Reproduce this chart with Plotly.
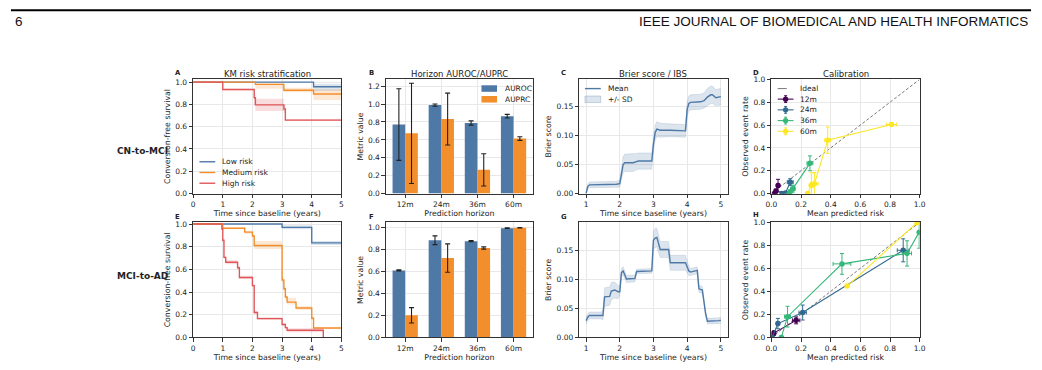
import numpy as np
import plotly.graph_objects as go

W, H = 1042, 370

# ---------------- data ----------------
# Panel A: KM, CN-to-MCI
a_low_t = [0, 4.06, 5]
a_low_s = [1.0, 0.958, 0.958]
a_low_lo = [1.0, 0.92, 0.92]
a_low_hi = [1.0, 0.985, 0.985]
a_med_t = [0, 2.1, 3.06, 4.06, 5]
a_med_s = [1.0, 0.98, 0.927, 0.893, 0.893]
a_med_lo = [1.0, 0.94, 0.91, 0.84, 0.84]
a_med_hi = [1.0, 0.99, 0.95, 0.935, 0.935]
a_high_t = [0, 1.0, 2.06, 2.1, 3.06, 3.11, 5]
a_high_s = [1.0, 0.933, 0.86, 0.796, 0.758, 0.659, 0.659]
a_high_lo = [1.0, 0.925, 0.80, 0.74, 0.72, 0.65, 0.65]
a_high_hi = [1.0, 0.94, 0.90, 0.85, 0.80, 0.668, 0.668]

# Panel E: KM, MCI-to-AD
e_low_t = [0, 3.0, 4.0, 5]
e_low_s = [1.0, 0.971, 0.834, 0.834]
e_low_lo = [1.0, 0.955, 0.815, 0.815]
e_low_hi = [1.0, 0.99, 0.85, 0.85]
e_med_t = [0, 1.0, 1.74, 2.0, 2.06, 3.0, 3.06, 3.11, 3.17, 3.47, 4.0, 4.06, 5]
e_med_s = [1.0, 0.963, 0.929, 0.894, 0.811, 0.506, 0.429, 0.357, 0.311, 0.26, 0.169, 0.083, 0.083]
e_med_lo = [1.0, 0.955, 0.915, 0.875, 0.78, 0.48, 0.40, 0.33, 0.29, 0.245, 0.155, 0.075, 0.075]
e_med_hi = [1.0, 0.97, 0.94, 0.91, 0.85, 0.53, 0.455, 0.38, 0.35, 0.275, 0.185, 0.09, 0.09]
e_high_t = [0, 0.97, 1.0, 1.04, 1.1, 1.5, 1.56, 2.0, 2.06, 2.17, 3.0, 3.11, 3.17, 4.39]
e_high_s = [1.0, 0.957, 0.857, 0.706, 0.663, 0.614, 0.529, 0.457, 0.22, 0.166, 0.114, 0.086, 0.063, 0.0]
e_high_lo = [1.0, 0.95, 0.84, 0.69, 0.645, 0.60, 0.515, 0.445, 0.205, 0.155, 0.10, 0.07, 0.045, 0.0]
e_high_hi = [1.0, 0.965, 0.87, 0.72, 0.68, 0.63, 0.545, 0.47, 0.235, 0.178, 0.13, 0.10, 0.08, 0.0]

# Panels B / F: horizon metrics
horizons = ["12m", "24m", "36m", "60m"]
b_auroc = [0.771, 0.989, 0.789, 0.865]
b_auroc_err = [0.40, 0.013, 0.024, 0.02]
b_auprc = [0.673, 0.833, 0.265, 0.615]
b_auprc_err = [0.56, 0.29, 0.18, 0.02]
f_auroc = [0.611, 0.887, 0.878, 0.997]
f_auroc_err = [0.005, 0.04, 0.005, 0.003]
f_auprc = [0.202, 0.724, 0.816, 1.0]
f_auprc_err = [0.07, 0.13, 0.01, 0.002]

# Panels C / G: Brier score over time
c_t = [1.0, 1.05, 1.1, 1.3, 1.5, 1.6, 1.9, 2.0, 2.05, 2.1, 2.15, 2.4, 2.5, 2.55, 2.9, 2.95,
       3.0, 3.05, 3.1, 3.2, 3.5, 3.8, 3.9, 3.95, 4.0, 4.05, 4.1, 4.3, 4.4, 4.5, 4.6, 4.7,
       4.75, 4.85, 4.95, 5.0]
c_mean = [0.0, 0.012, 0.015, 0.015, 0.015, 0.016, 0.016, 0.017, 0.035, 0.050, 0.053, 0.053,
          0.055, 0.056, 0.056, 0.056, 0.085, 0.105, 0.111, 0.109, 0.109, 0.109, 0.108, 0.108,
          0.145, 0.155, 0.157, 0.157, 0.158, 0.160, 0.166, 0.170, 0.170, 0.165, 0.166, 0.167]
c_sd = [0.0, 0.004, 0.005, 0.005, 0.005, 0.005, 0.005, 0.006, 0.010, 0.014, 0.015, 0.015,
        0.014, 0.014, 0.014, 0.014, 0.013, 0.013, 0.013, 0.012, 0.011, 0.011, 0.011, 0.011,
        0.012, 0.013, 0.013, 0.013, 0.013, 0.013, 0.015, 0.015, 0.015, 0.014, 0.014, 0.014]
g_t = [1.0, 1.05, 1.1, 1.45, 1.5, 1.55, 1.7, 1.75, 1.85, 1.95, 2.0, 2.05, 2.1, 2.2, 2.45,
       2.5, 2.95, 3.0, 3.05, 3.1, 3.2, 3.45, 3.5, 3.95, 4.05, 4.1, 4.3, 4.35, 4.45, 4.55,
       4.6, 4.95, 5.0]
g_mean = [0.029, 0.035, 0.038, 0.038, 0.038, 0.070, 0.071, 0.080, 0.082, 0.079, 0.079, 0.112,
          0.115, 0.101, 0.102, 0.114, 0.115, 0.168, 0.172, 0.173, 0.152, 0.152, 0.129, 0.129,
          0.115, 0.113, 0.116, 0.084, 0.082, 0.040, 0.028, 0.029, 0.030]
g_sd = [0.006, 0.006, 0.006, 0.006, 0.008, 0.016, 0.016, 0.015, 0.014, 0.012, 0.008, 0.007,
        0.007, 0.006, 0.006, 0.004, 0.004, 0.015, 0.017, 0.016, 0.014, 0.014, 0.013, 0.013,
        0.008, 0.006, 0.006, 0.006, 0.006, 0.005, 0.005, 0.005, 0.005]

# Panels D / H: calibration (mean predicted risk, observed rate, errors)
cal_labels = ["12m", "24m", "36m", "60m"]
d_x = [[0.02, 0.03, 0.045], [0.07, 0.095, 0.127], [0.12, 0.127, 0.145, 0.26],
       [0.245, 0.27, 0.29, 0.38, 0.81]]
d_y = [[0.0, 0.02, 0.07], [0.0, 0.005, 0.10], [0.0, 0.015, 0.043, 0.265],
       [0.0, 0.072, 0.086, 0.468, 0.605]]
d_xerr = [[0.005, 0.005, 0.01], [0.01, 0.01, 0.02], [0.01, 0.01, 0.015, 0.02],
          [0.01, 0.015, 0.025, 0.02, 0.035]]
d_yerr = [[0.0, 0.02, 0.055], [0.0, 0.01, 0.03], [0.0, 0.015, 0.03, 0.065],
          [0.0, 0.11, 0.10, 0.115, 0.01]]
h_x = [[0.003, 0.016, 0.167], [0.005, 0.044, 0.211, 0.889],
       [0.067, 0.109, 0.476, 0.915, 0.997], [0.511, 0.982]]
h_y = [[0.0, 0.037, 0.148], [0.0, 0.12, 0.216, 0.757],
       [0.0, 0.18, 0.639, 0.73, 0.915], [0.446, 0.997]]
h_xerr = [[0.003, 0.01, 0.025], [0.005, 0.01, 0.025, 0.04],
          [0.01, 0.02, 0.06, 0.03, 0.005], [0.005, 0.005]]
h_yerr = [[0.0, 0.02, 0.03], [0.0, 0.045, 0.065, 0.1],
          [0.0, 0.09, 0.09, 0.11, 0.14], [0.0, 0.0]]

# ---------------- style ----------------
BLUE, ORANGE, RED = "#4E79A7", "#F28E2B", "#E15759"
VIR = ["#440154", "#31688E", "#35B779", "#FDE725"]
FONT = "DejaVu Sans"
TXT = "#222222"


def rgba(hexc, a):
    h = hexc.lstrip("#")
    return "rgba(%d,%d,%d,%s)" % (int(h[0:2], 16), int(h[2:4], 16), int(h[4:6], 16), a)


def px(x):
    return x / W


def py(y):
    return 1 - y / H


cols = [(189.3, 339.3), (384.3, 533.0), (580.0, 730.0), (774.3, 924.3)]
rows = [(77.3, 194.3), (223.8, 341.7)]

fig = go.Figure()


def ax(i):
    return ("x" if i == 1 else "x%d" % i), ("y" if i == 1 else "y%d" % i)


def km(i, t, s, lo, hi, color):
    xa, ya = ax(i)
    fig.add_trace(go.Scatter(x=t, y=hi, mode="lines", line=dict(width=0, shape="hv"),
                             xaxis=xa, yaxis=ya, showlegend=False, hoverinfo="skip"))
    fig.add_trace(go.Scatter(x=t, y=lo, mode="lines", line=dict(width=0, shape="hv"),
                             fill="tonexty", fillcolor=rgba(color, 0.2),
                             xaxis=xa, yaxis=ya, showlegend=False, hoverinfo="skip"))
    fig.add_trace(go.Scatter(x=t, y=s, mode="lines", line=dict(color=color, width=1.4, shape="hv"),
                             xaxis=xa, yaxis=ya, showlegend=False))


km(1, a_low_t, a_low_s, a_low_lo, a_low_hi, BLUE)
km(1, a_med_t, a_med_s, a_med_lo, a_med_hi, ORANGE)
km(1, a_high_t, a_high_s, a_high_lo, a_high_hi, RED)
km(5, e_low_t, e_low_s, e_low_lo, e_low_hi, BLUE)
km(5, e_med_t, e_med_s, e_med_lo, e_med_hi, ORANGE)
km(5, e_high_t, e_high_s, e_high_lo, e_high_hi, RED)


def bars(i, auroc, auroc_err, auprc, auprc_err):
    xa, ya = ax(i)
    idx = np.arange(len(horizons))
    for vals, errs, color, off in ((auroc, auroc_err, BLUE, -0.175), (auprc, auprc_err, ORANGE, 0.175)):
        fig.add_trace(go.Bar(x=idx + off, y=vals, width=0.35, marker=dict(color=color, line=dict(width=0)),
                             error_y=dict(type="data", array=errs, color="#222222", thickness=1.1, width=2.5),
                             xaxis=xa, yaxis=ya, showlegend=False))


bars(2, b_auroc, b_auroc_err, b_auprc, b_auprc_err)
bars(6, f_auroc, f_auroc_err, f_auprc, f_auprc_err)


def brier(i, t, m, sd):
    xa, ya = ax(i)
    m = np.array(m)
    sd = np.array(sd)
    fig.add_trace(go.Scatter(x=t, y=m + sd, mode="lines", line=dict(width=0.6, color=rgba(BLUE, 0.25)),
                             xaxis=xa, yaxis=ya, showlegend=False, hoverinfo="skip"))
    fig.add_trace(go.Scatter(x=t, y=np.maximum(m - sd, 0), mode="lines",
                             line=dict(width=0.6, color=rgba(BLUE, 0.25)),
                             fill="tonexty", fillcolor=rgba(BLUE, 0.2),
                             xaxis=xa, yaxis=ya, showlegend=False, hoverinfo="skip"))
    fig.add_trace(go.Scatter(x=t, y=m, mode="lines", line=dict(color=BLUE, width=1.4),
                             xaxis=xa, yaxis=ya, showlegend=False))


brier(3, c_t, c_mean, c_sd)
brier(7, g_t, g_mean, g_sd)


def calib(i, xs, ys, xe, ye):
    xa, ya = ax(i)
    fig.add_trace(go.Scatter(x=[0, 1], y=[0, 1], mode="lines",
                             line=dict(color="#555555", width=0.8, dash="3px,2px"),
                             xaxis=xa, yaxis=ya, showlegend=False))
    for k in range(len(cal_labels)):
        c = VIR[k]
        fig.add_trace(go.Scatter(x=xs[k], y=ys[k], mode="lines+markers",
                                 line=dict(color=c, width=1.1),
                                 marker=dict(color=c, size=5.5),
                                 error_x=dict(type="data", array=xe[k], color=c, thickness=1, width=2),
                                 error_y=dict(type="data", array=ye[k], color=c, thickness=1, width=2),
                                 xaxis=xa, yaxis=ya, showlegend=False, cliponaxis=True))


calib(4, d_x, d_y, d_xerr, d_yerr)
calib(8, h_x, h_y, h_xerr, h_yerr)

# ---------------- axes ----------------
base = dict(showline=True, linecolor="#333333", linewidth=1, mirror=True,
            ticks="outside", ticklen=3.5, tickwidth=0.8, tickcolor="#333333",
            showgrid=True, gridcolor="#e8e8e8", gridwidth=0.8, zeroline=False,
            tickfont=dict(size=7.5, color=TXT, family=FONT))
tfont = dict(size=7.8, color=TXT, family=FONT)

xspec = {
    1: dict(range=[0, 5], dtick=1, tick0=0, title="Time since baseline (years)"),
    2: dict(range=[-0.535, 3.535], tickvals=list(range(4)), ticktext=horizons, title="Prediction horizon"),
    3: dict(range=[0.8, 5.2], dtick=1, tick0=0, title="Time since baseline (years)"),
    4: dict(range=[0, 1], dtick=0.2, tick0=0, tickformat=".1f", title="Mean predicted risk"),
}
yspec = {
    1: dict(range=[0, 1.024], dtick=0.2, tick0=0, tickformat=".1f", title="Conversion-free survival"),
    2: dict(range=[0, 1.276], dtick=0.2, tick0=0, tickformat=".1f", title="Metric value"),
    3: dict(range=[0, 0.1965], dtick=0.05, tick0=0, tickformat=".2f", title="Brier score"),
    4: dict(range=[0, 1], dtick=0.2, tick0=0, tickformat=".1f", title="Observed event rate"),
    5: dict(range=[0, 1.015], dtick=0.2, tick0=0, tickformat=".1f", title="Conversion-free survival"),
    6: dict(range=[0, 1.05], dtick=0.2, tick0=0, tickformat=".1f", title="Metric value"),
    7: dict(range=[0, 0.199], dtick=0.05, tick0=0, tickformat=".2f", title="Brier score"),
    8: dict(range=[0, 1], dtick=0.2, tick0=0, tickformat=".1f", title="Observed event rate"),
}

layout_axes = {}
for r in range(2):
    for c in range(4):
        i = r * 4 + c + 1
        xs = dict(xspec[c + 1])
        ys = dict(yspec[i])
        xt = xs.pop("title")
        yt = ys.pop("title")
        xa = dict(base, **xs)
        ya = dict(base, **ys)
        xa["domain"] = [px(cols[c][0]), px(cols[c][1])]
        ya["domain"] = [py(rows[r][1]), py(rows[r][0])]
        xa["anchor"] = "y" if i == 1 else "y%d" % i
        ya["anchor"] = "x" if i == 1 else "x%d" % i
        xa["title"] = dict(text=xt, font=tfont, standoff=1)
        ya["title"] = dict(text=yt, font=tfont, standoff=3)
        layout_axes["xaxis" if i == 1 else "xaxis%d" % i] = xa
        layout_axes["yaxis" if i == 1 else "yaxis%d" % i] = ya

fig.update_layout(**layout_axes)

# ---------------- annotations / shapes ----------------
ann = []
shp = []


def text(x, y, s, size, bold=False, anchor="center", family=FONT, color=TXT):
    ann.append(dict(x=px(x), y=py(y), xref="paper", yref="paper", text=("<b>%s</b>" % s) if bold else s,
                    showarrow=False, xanchor=anchor, yanchor="middle",
                    font=dict(size=size, family=family, color=color)))


def hline(x0, x1, y, color, width=1.4, dash=None):
    shp.append(dict(type="line", xref="paper", yref="paper", x0=px(x0), x1=px(x1), y0=py(y), y1=py(y),
                    line=dict(color=color, width=width, dash=dash)))


def vline(x, y0, y1, color, width=1.0):
    shp.append(dict(type="line", xref="paper", yref="paper", x0=px(x), x1=px(x), y0=py(y0), y1=py(y1),
                    line=dict(color=color, width=width)))


def rect(x0, x1, y0, y1, fill, edge=None):
    shp.append(dict(type="rect", xref="paper", yref="paper", x0=px(x0), x1=px(x1), y0=py(y1), y1=py(y0),
                    fillcolor=fill, line=dict(width=0.8 if edge else 0, color=edge or fill)))


# header
hline(5, 1037, 6.5, "#000000", width=2)
text(7, 17.5, "6", 13.5, anchor="left", family="Liberation Sans, Arial", color="#111111")
text(1036, 17.5, "IEEE JOURNAL OF BIOMEDICAL AND HEALTH INFORMATICS", 13.5, anchor="right",
     family="Liberation Sans, Arial", color="#111111")

# row labels
text(138, 151, "CN-to-MCI", 9, bold=True)
text(138, 279, "MCI-to-AD", 9, bold=True)

# panel titles and letters
titles = ["KM risk stratification", "Horizon AUROC/AUPRC", "Brier score / IBS", "Calibration"]
for c in range(4):
    text((cols[c][0] + cols[c][1]) / 2, 71.5, titles[c], 8.5)
for (x, y, s) in [(174, 71, "A"), (369.3, 71, "B"), (564, 71, "C"), (759, 70.5, "D"),
                  (174, 218, "E"), (369.3, 218, "F"), (564, 218, "G"), (758.5, 216, "H")]:
    text(x, y, s, 6.8, bold=True)

# legend A
for yy, col, lab in [(161.7, BLUE, "Low risk"), (172.7, ORANGE, "Medium risk"), (183.7, RED, "High risk")]:
    hline(195.7, 211.7, yy, col, width=1.4)
    text(216.7, yy, lab, 7.5, anchor="left")

# legend B
for (y0, y1), col, lab in [((83.3, 90.0), BLUE, "AUROC"), ((94.3, 101.0), ORANGE, "AUPRC")]:
    rect(481.0, 496.7, y0, y1, col)
    text(502.3, (y0 + y1) / 2, lab, 7.5, anchor="left")

# legend C
hline(585.7, 601.7, 86.7, BLUE, width=1.4)
text(606.7, 86.7, "Mean", 7.5, anchor="left")
rect(585.7, 601.7, 94.3, 101.0, rgba(BLUE, 0.2), edge=rgba(BLUE, 0.35))
text(606.7, 97.7, "+/- SD", 7.5, anchor="left")

# legend D
hline(780.7, 796.7, 86.7, "#555555", width=0.8, dash="dash")
text(801.7, 86.7, "Ideal", 7.5, anchor="left")
for k, yy in enumerate([97.5, 108.5, 119.5, 130.5]):
    c = VIR[k]
    hline(780.7, 796.7, yy, c, width=1.1)
    vline(788.7, yy - 3.5, yy + 3.5, c, width=1.0)
    hline(787.2, 790.2, yy - 3.5, c, width=1.0)
    hline(787.2, 790.2, yy + 3.5, c, width=1.0)
    shp.append(dict(type="circle", xref="paper", yref="paper",
                    x0=px(788.7 - 2.7), x1=px(788.7 + 2.7), y0=py(yy + 2.7), y1=py(yy - 2.7),
                    fillcolor=c, line=dict(width=0)))
    text(801.7, yy, cal_labels[k], 7.5, anchor="left")

fig.update_layout(
    width=W, height=H, margin=dict(l=0, r=0, t=0, b=0),
    paper_bgcolor="white", plot_bgcolor="white",
    showlegend=False, barmode="overlay",
    annotations=ann, shapes=shp,
    font=dict(family=FONT, color=TXT),
)

fig.write_html("out.html", post_script="document.body.style.margin='0';")
